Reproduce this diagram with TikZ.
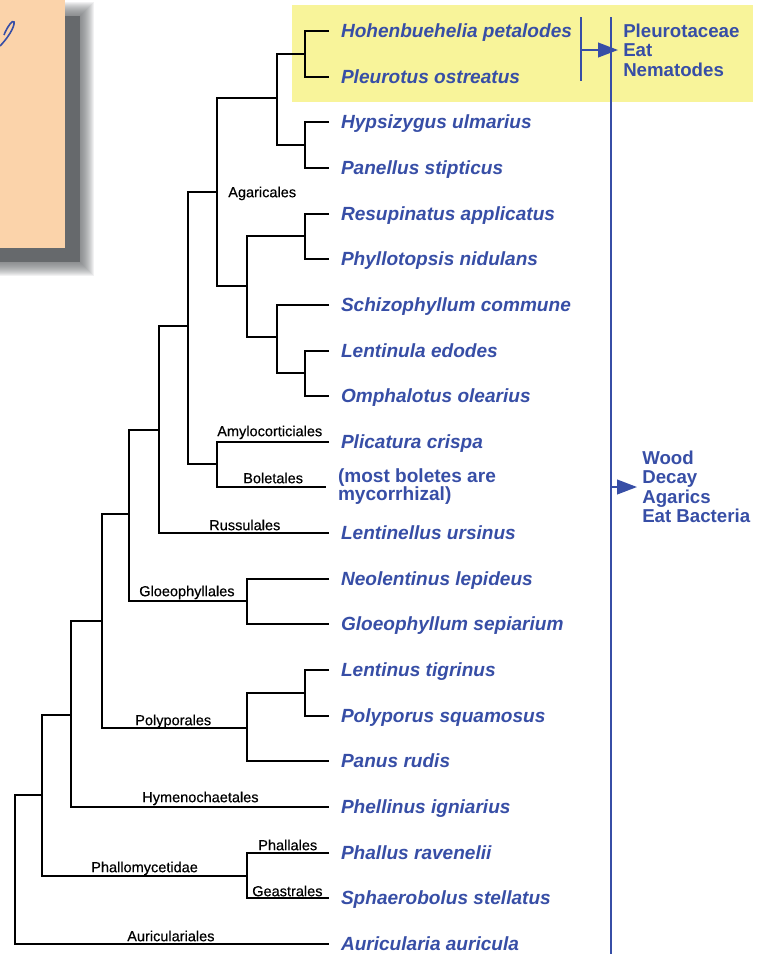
\documentclass[tikz,border=0pt]{standalone}
\usepackage{fontspec}
\setmainfont{Liberation Sans}
\newfontfamily\cladefont[FakeBold=0.4]{Liberation Sans}
\usepackage{tikz}
\usetikzlibrary{arrows.meta}
\definecolor{leafblue}{RGB}{55,78,166}
\definecolor{peach}{RGB}{251,211,170}
\definecolor{shadowgray}{RGB}{102,105,108}
\definecolor{paleyellow}{RGB}{248,244,154}

\begin{document}
\begin{tikzpicture}[x=0.75pt,y=0.75pt,yscale=-1,xscale=1,
  branch/.style={line width=1.3pt},
  leaf/.style={anchor=west, inner sep=0pt, outer xsep=9pt, text height=10.2pt, text depth=0pt, text=leafblue, font=\fontsize{14.3}{15}\selectfont\bfseries\itshape},
  note/.style={anchor=west, inner sep=0pt, outer xsep=9pt, align=left, text=leafblue, font=\fontsize{14.3}{13.5}\selectfont\bfseries},
  clade/.style={anchor=west, inner sep=0pt, text height=7.8pt, text depth=0pt, font=\fontsize{10.9}{12}\cladefont},
  habit/.style={anchor=west, inner xsep=3.75pt, inner ysep=0pt, align=left, text=leafblue, font=\fontsize{14}{14.6}\selectfont\bfseries},
  rail/.style={leafblue, line width=1.5pt},
  habitarrow/.style={rail, -{Triangle[length=15pt,width=11pt]}}]
\useasboundingbox (0,0) rectangle (764,954);

%Shape: Shadow of the card
\foreach \d in {1,...,14} {
  \fill [shadowgray, opacity=0.09] (-20,16-\d) rectangle (80+\d,262+\d);
}
\fill [shadowgray] (-20,16) rectangle (80,262);
%Shape: Rectangle (card)
\fill [peach] (-5,-5) rectangle (65,248);
%Curve Lines (script stroke)
\draw [leafblue, line width=1.2pt] (0,46) .. controls (7,39) and (15,27) .. (14,22) .. controls (13,19) and (7,27) .. (4,35);
%Shape: Rectangle (highlight)
\fill [paleyellow] (292,5) rectangle (753,102);

% Text Node
\node [leaf] (hohen) at (329,31) {Hohenbuehelia petalodes};
\node [leaf] (pleur) at (329,77) {Pleurotus ostreatus};
\node [leaf] (hypsi) at (329,122) {Hypsizygus ulmarius};
\node [leaf] (panel) at (329,168) {Panellus stipticus};
\node [leaf] (resup) at (329,214) {Resupinatus applicatus};
\node [leaf] (phyll) at (329,259) {Phyllotopsis nidulans};
\node [leaf] (schiz) at (329,305) {Schizophyllum commune};
\node [leaf] (lentu) at (329,351) {Lentinula edodes};
\node [leaf] (ompha) at (329,396) {Omphalotus olearius};
\node [leaf] (plica) at (329,442) {Plicatura crispa};
\node [note] (bolet) at (326,487) {(most boletes are\\mycorrhizal)};
\node [leaf] (lents) at (329,533) {Lentinellus ursinus};
\node [leaf] (neole) at (329,579) {Neolentinus lepideus};
\node [leaf] (gloeo) at (329,624) {Gloeophyllum sepiarium};
\node [leaf] (lenti) at (329,670) {Lentinus tigrinus};
\node [leaf] (polyp) at (329,716) {Polyporus squamosus};
\node [leaf] (panus) at (329,761) {Panus rudis};
\node [leaf] (pheli) at (329,807) {Phellinus igniarius};
\node [leaf] (phall) at (329,853) {Phallus ravenelii};
\node [leaf] (sphae) at (329,898) {Sphaerobolus stellatus};
\node [leaf] (auric) at (329,944) {Auricularia auricula};

% Text Node
\node [clade] (agarl) at (228,192) {Agaricales};
\node [clade] (amylol) at (217,431) {Amylocorticiales};
\node [clade] (boletl) at (243,478) {Boletales};
\node [clade] (russl) at (209,525) {Russulales};
\node [clade] (gloel) at (139,591) {Gloeophyllales};
\node [clade] (polyl) at (135,720) {Polyporales};
\node [clade] (hymel) at (142,797) {Hymenochaetales};
\node [clade] (phallal) at (258,845) {Phallales};
\node [clade] (phallom) at (91,867) {Phallomycetidae};
\node [clade] (geastl) at (252,891) {Geastrales};
\node [clade] (auricl) at (127,936) {Auriculariales};

%Branch points
\coordinate (hp) at (305,54);
\coordinate (hy) at (305,145);
\coordinate (pl) at (277,98);
\coordinate (rp) at (305,236);
\coordinate (lo) at (305,373);
\coordinate (sl) at (277,337);
\coordinate (rs) at (247,286);
\coordinate (agar) at (217,192);
\coordinate (amb) at (217,464);
\coordinate (ab) at (188,326);
\coordinate (abr) at (159,430);
\coordinate (glo) at (247,601);
\coordinate (abrg) at (129,514);
\coordinate (lp) at (305,693);
\coordinate (poly) at (247,728);
\coordinate (agpo) at (102,621);
\coordinate (agpoh) at (71,715);
\coordinate (phal) at (247,876);
\coordinate (basid) at (42,795);
\coordinate (root) at (15,870);

%Straight Lines
\draw [branch] (hohen.west) -| (hp) |- (pleur.west);
\draw [branch] (hypsi.west) -| (hy) |- (panel.west);
\draw [branch] (hp) -| (pl) |- (hy);
\draw [branch] (resup.west) -| (rp) |- (phyll.west);
\draw [branch] (lentu.west) -| (lo) |- (ompha.west);
\draw [branch] (schiz.west) -| (sl) |- (lo);
\draw [branch] (rp) -| (rs) |- (sl);
\draw [branch] (pl) -| (agar) |- (rs);
\draw [branch] (plica.west) -| (amb) |- (bolet.west);
\draw [branch] (agar) -| (ab) |- (amb);
\draw [branch] (ab) -| (abr) |- (lents.west);
\draw [branch] (neole.west) -| (glo) |- (gloeo.west);
\draw [branch] (abr) -| (abrg) |- (glo);
\draw [branch] (lenti.west) -| (lp) |- (polyp.west);
\draw [branch] (lp) -| (poly) |- (panus.west);
\draw [branch] (abrg) -| (agpo) |- (poly);
\draw [branch] (agpo) -| (agpoh) |- (pheli.west);
\draw [branch] (phall.west) -| (phal) |- (sphae.west);
\draw [branch] (agpoh) -| (basid) |- (phal);
\draw [branch] (basid) -| (root) |- (auric.west);

%Straight Lines (habit bars)
\coordinate (railtop) at (611,17);
\coordinate (railbot) at (611,954);
\coordinate (bartop) at (581,17);
\coordinate (barbot) at (581,81);
\draw [rail] (railtop) -- (railbot);
\draw [rail] (bartop) -- (barbot);

% Text Node
\node [habit] (nemat) at (618,50) {Pleurotaceae\\Eat\\Nematodes};
\node [habit] (bact) at (637,487) {Wood\\Decay\\Agarics\\Eat Bacteria};
\draw [habitarrow] (bartop |- nemat.west) -- (nemat.west);
\draw [habitarrow] (railtop |- bact.west) -- (bact.west);

\end{tikzpicture}
\end{document}
